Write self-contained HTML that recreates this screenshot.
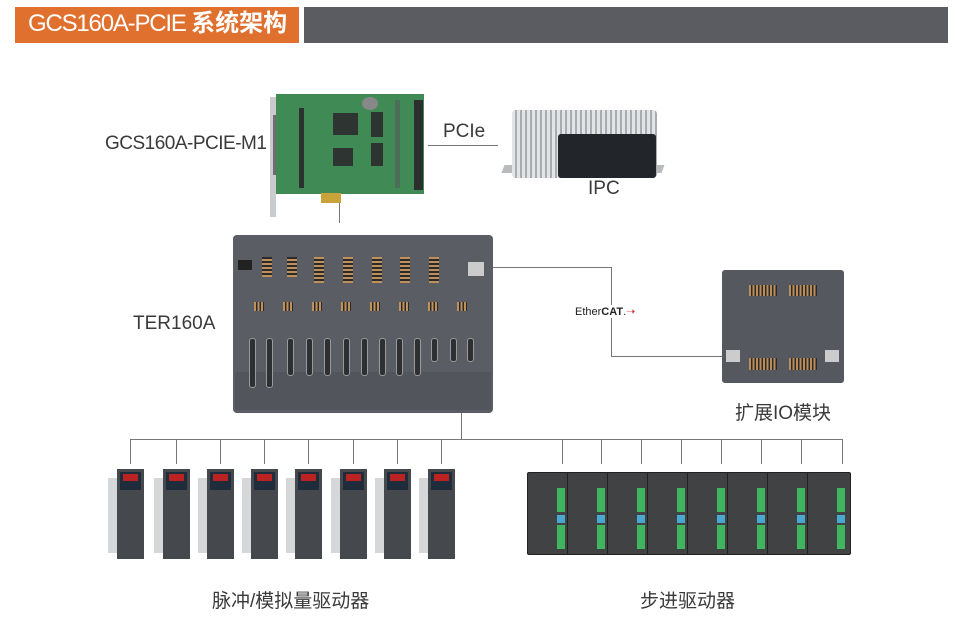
<!DOCTYPE html>
<html><head><meta charset="utf-8"><style>
*{margin:0;padding:0;box-sizing:border-box}
body{width:963px;height:638px;background:#fff;position:relative;overflow:hidden;font-family:"Liberation Sans","Noto Sans CJK SC",sans-serif}
.a{position:absolute}
.t{position:absolute;color:#3a3a3a;white-space:nowrap}
.ln{position:absolute;background:#777}
</style></head><body>
<div class="a" style="left:15px;top:7px;width:284px;height:36px;background:#e0702e"></div>
<div class="t" style="left:28px;top:9px;font-size:24px;color:#fff;letter-spacing:-1.2px;line-height:30px">GCS160A-PCIE <span style="font-weight:bold;letter-spacing:0">系统架构</span></div>
<div class="a" style="left:304px;top:7px;width:644px;height:36px;background:#5a5c61"></div>

<!-- PCIe card -->
<div class="a" style="left:270px;top:97px;width:6px;height:120px;background:#c9cbcc"></div>
<div class="a" style="left:273px;top:115px;width:10px;height:60px;background:#6c6e70"></div>
<div class="a" style="left:276px;top:94px;width:148px;height:100px;background:#3f8a55"></div>
<div class="a" style="left:333px;top:113px;width:25px;height:22px;background:#2e3432"></div>
<div class="a" style="left:333px;top:148px;width:20px;height:18px;background:#2e3432"></div>
<div class="a" style="left:371px;top:112px;width:12px;height:25px;background:#2e3432"></div>
<div class="a" style="left:371px;top:143px;width:12px;height:23px;background:#2e3432"></div>
<div class="a" style="left:362px;top:97px;width:16px;height:13px;border-radius:50%;background:#888"></div>
<div class="a" style="left:414px;top:100px;width:9px;height:90px;background:#2b2f2e"></div>
<div class="a" style="left:395px;top:100px;width:5px;height:88px;background:#4c6e57"></div>
<div class="a" style="left:299px;top:108px;width:5px;height:80px;background:#2b332f"></div>
<div class="a" style="left:321px;top:193px;width:20px;height:10px;background:#c9a23a"></div>
<div class="ln" style="left:339px;top:203px;width:1px;height:20px"></div>
<div class="t" style="left:105px;top:133px;font-size:19px;letter-spacing:-0.5px">GCS160A-PCIE-M1</div>

<!-- PCIe line + IPC -->
<div class="ln" style="left:428px;top:145px;width:70px;height:1px"></div>
<div class="t" style="left:443px;top:121px;font-size:19px">PCIe</div>
<div class="a" style="left:503px;top:165px;width:160px;height:8px;background:#b9bcbf;transform:skewX(-20deg)"></div>
<div class="a" style="left:512px;top:110px;width:145px;height:68px;background:repeating-linear-gradient(90deg,#e2e4e6 0 3px,#a8abaf 3px 5px);border-radius:4px"></div>
<div class="a" style="left:558px;top:134px;width:98px;height:44px;background:#22252a;border-radius:3px"></div>
<div class="t" style="left:588px;top:178px;font-size:19px">IPC</div>

<!-- TER160A -->
<div class="a" style="left:233px;top:235px;width:260px;height:178px;background:#5a5d63;border-radius:4px"></div>
<div class="a" style="left:235px;top:372px;width:256px;height:38px;background:#52555b"></div>
<div class="a" style="left:238px;top:260px;width:14px;height:10px;background:#222"></div>
<div id="ter"></div>
<div class="a" style="left:468px;top:262px;width:16px;height:14px;background:#ccc"></div>
<div class="t" style="left:133px;top:313px;font-size:19px">TER160A</div>

<!-- ethercat -->
<div class="ln" style="left:493px;top:267px;width:118px;height:1px"></div>
<div class="ln" style="left:611px;top:267px;width:1px;height:90px"></div>
<div class="ln" style="left:611px;top:356px;width:112px;height:1px"></div>
<div class="t" style="left:575px;top:305px;font-size:11px;background:#fff;color:#222">Ether<b>CAT</b>.<span style="color:#d22">➝</span></div>

<!-- IO module -->
<div class="a" style="left:722px;top:270px;width:122px;height:113px;background:#55585e;border-radius:3px"></div>
<div class="a" style="left:749px;top:285px;width:28px;height:11px;background:repeating-linear-gradient(90deg,#b98d5a 0 2px,#2a2a2a 2px 3.5px)"></div>
<div class="a" style="left:789px;top:285px;width:28px;height:11px;background:repeating-linear-gradient(90deg,#b98d5a 0 2px,#2a2a2a 2px 3.5px)"></div>
<div class="a" style="left:749px;top:358px;width:28px;height:12px;background:repeating-linear-gradient(90deg,#b98d5a 0 2px,#2a2a2a 2px 3.5px)"></div>
<div class="a" style="left:789px;top:358px;width:28px;height:12px;background:repeating-linear-gradient(90deg,#b98d5a 0 2px,#2a2a2a 2px 3.5px)"></div>
<div class="a" style="left:726px;top:350px;width:14px;height:12px;background:#ccc"></div>
<div class="a" style="left:825px;top:350px;width:14px;height:12px;background:#ccc"></div>
<div class="t" style="left:735px;top:398px;font-size:19px">扩展IO模块</div>

<!-- bus -->
<div class="ln" style="left:461px;top:413px;width:1px;height:26px"></div>
<div class="ln" style="left:130px;top:439px;width:713px;height:1px"></div>
<div id="bus"></div>

<div class="t" style="left:212px;top:586px;font-size:19px">脉冲/模拟量驱动器</div>
<div class="t" style="left:640px;top:586px;font-size:19px">步进驱动器</div>

<script>
var h='';
var tx=[260,285,312,341,370,398,427,456];
for(var i=0;i<7;i++){h+='<div class="a" style="left:'+(tx[i]+2)+'px;top:257px;width:10px;height:'+(i<2?20:26)+'px;background:repeating-linear-gradient(0deg,#c0905a 0 2px,#2a2a2a 2px 4px)"></div>';}
for(var i=0;i<8;i++){h+='<div class="a" style="left:'+(254+i*29)+'px;top:302px;width:10px;height:9px;background:repeating-linear-gradient(90deg,#c0905a 0 2px,#2a2a2a 2px 3.5px)"></div>';}
var dx=[249,266,287,306,324,343,361,379,396,414,431,450,467];
for(var i=0;i<13;i++){var hh=i<2?50:(i>9?24:38);h+='<div class="a" style="left:'+dx[i]+'px;top:338px;width:7px;height:'+hh+'px;background:#2d2f33;border:1px solid #999;border-radius:3px"></div>';}
document.getElementById('ter').outerHTML=h;
h='';
var sv=[130,176,220,264,308,353,397,441];
var st=[562,601,641,681,721,761,801,842];
for(var i=0;i<8;i++){
h+='<div class="ln" style="left:'+sv[i]+'px;top:439px;width:1px;height:25px"></div>';
h+='<div class="ln" style="left:'+st[i]+'px;top:439px;width:1px;height:25px"></div>';
var x=sv[i]-13;
h+='<div class="a" style="left:'+(x-9)+'px;top:478px;width:12px;height:75px;background:#d6d7d9"></div>';
h+='<div class="a" style="left:'+x+'px;top:469px;width:27px;height:90px;background:#45484d"></div>';
h+='<div class="a" style="left:'+(x+3)+'px;top:472px;width:21px;height:18px;background:#1e2c3c"></div>';
h+='<div class="a" style="left:'+(x+6)+'px;top:474px;width:15px;height:7px;background:#b22"></div>';
}
for(var i=0;i<8;i++){
var x=527+i*40;
h+='<div class="a" style="left:'+x+'px;top:472px;width:44px;height:83px;background:#404244;border:1px solid #222;border-radius:2px"></div>';
h+='<div class="a" style="left:'+(x+30)+'px;top:488px;width:8px;height:24px;background:#3fb560"></div>';
h+='<div class="a" style="left:'+(x+30)+'px;top:515px;width:8px;height:8px;background:#49a8d0"></div>';
h+='<div class="a" style="left:'+(x+30)+'px;top:525px;width:8px;height:24px;background:#3fb560"></div>';
}
document.getElementById('bus').outerHTML=h;
</script>
</body></html>
